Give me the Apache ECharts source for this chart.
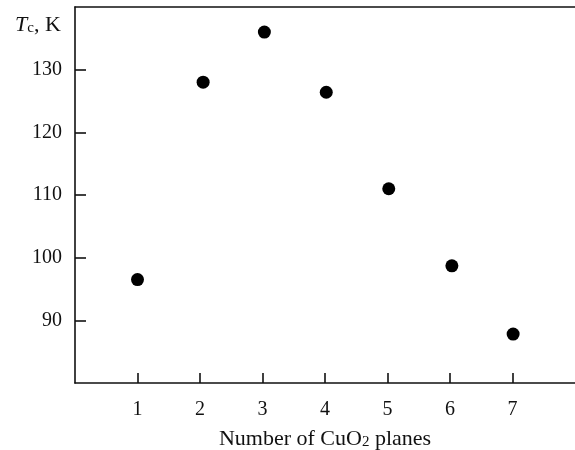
<!DOCTYPE html>
<html><head><meta charset="utf-8">
<script src="https://cdn.jsdelivr.net/npm/echarts@6/dist/echarts.min.js"></script>
<style>html,body{margin:0;padding:0;background:#fff}#c{width:575px;height:450px}</style>
</head><body><div id="c"></div>
<script>
var planes = [1, 2.05, 3.03, 4.02, 5.02, 6.03, 7.01];
var tc = [96.5, 128.0, 136.0, 126.4, 111.0, 98.7, 87.8];
var xTicks = [1, 2, 3, 4, 5, 6, 7];
var yTicks = [90, 100, 110, 120, 130];

var font = 'Liberation Serif, Times New Roman, serif';
var chart = echarts.init(document.getElementById('c'));
chart.setOption({
  animation: false,
  backgroundColor: '#fff',
  title: {
    text: '{i|T}{s|c}{n|, K}',
    left: 10, top: 5,
    textStyle: {
      fontWeight: 'normal',
      rich: {
        i: {fontFamily: font, fontStyle: 'italic', fontWeight: 'normal', fontSize: 22, color: '#111', verticalAlign: 'bottom', lineHeight: 26},
        s: {fontFamily: font, fontWeight: 'normal', fontSize: 15, color: '#111', verticalAlign: 'bottom', lineHeight: 10},
        n: {fontFamily: font, fontWeight: 'normal', fontSize: 22, color: '#111', verticalAlign: 'bottom', lineHeight: 26}
      }
    }
  },
  grid: {left: 75, right: 0, top: 7, bottom: 67, containLabel: false, outerBoundsMode: 'none'},
  xAxis: [{
    type: 'value', min: 0, max: 8, interval: 1,
    axisLine: {show: true, lineStyle: {color: '#111', width: 1.6}},
    axisTick: {show: true, inside: true, length: 10, lineStyle: {color: '#111', width: 1.6},
      customValues: xTicks},
    axisLabel: {fontFamily: font, fontSize: 20, color: '#111', margin: 17, customValues: xTicks},
    splitLine: {show: false},
    name: '{n|Number of CuO}{s|2}{n| planes}',
    nameLocation: 'middle', nameGap: 41,
    nameTextStyle: {
      rich: {
        n: {fontFamily: font, fontSize: 22, color: '#111', verticalAlign: 'bottom', lineHeight: 26},
        s: {fontFamily: font, fontSize: 15, color: '#111', verticalAlign: 'bottom', lineHeight: 10}
      }
    }
  }, {
    type: 'value', position: 'top', min: 0, max: 8,
    axisLine: {show: true, onZero: false, lineStyle: {color: '#111', width: 1.6}},
    axisTick: {show: false}, axisLabel: {show: false}, splitLine: {show: false}
  }],
  yAxis: {
    type: 'value', min: 80, max: 140, interval: 10,
    axisLine: {show: true, lineStyle: {color: '#111', width: 1.6}},
    axisTick: {show: true, inside: true, length: 11, lineStyle: {color: '#111', width: 1.6}, customValues: yTicks},
    axisLabel: {fontFamily: font, fontSize: 20, color: '#111', margin: 13, customValues: yTicks},
    splitLine: {show: false}
  },
  series: [{
    type: 'scatter',
    data: planes.map(function (x, i) { return [x, tc[i]]; }),
    symbol: 'circle', symbolSize: 13,
    itemStyle: {color: '#000', opacity: 1}
  }]
});
</script></body></html>
